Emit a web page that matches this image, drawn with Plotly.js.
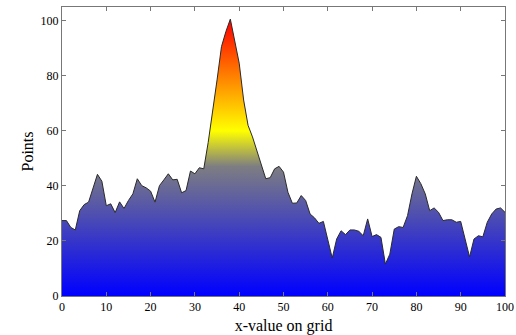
<!DOCTYPE html>
<html>
<head>
<meta charset="utf-8">
<script src="https://cdn.plot.ly/plotly-3.0.1.min.js"></script>
<style>html,body{margin:0;padding:0;background:#fff;}#chart{width:516px;height:335px;}</style>
</head>
<body>
<div id="chart"></div>
<script>
var xValues = [0,1,2,3,4,5,6,7,8,9,10,11,12,13,14,15,16,17,18,19,20,21,22,23,24,25,26,27,28,29,30,31,32,33,34,35,36,37,38,39,40,41,42,43,44,45,46,47,48,49,50,51,52,53,54,55,56,57,58,59,60,61,62,63,64,65,66,67,68,69,70,71,72,73,74,75,76,77,78,79,80,81,82,83,84,85,86,87,88,89,90,91,92,93,94,95,96,97,98,99,100];
var points = [27.4,27.4,24.9,24.0,31.0,33.2,34.1,39.5,44.2,41.7,32.8,33.5,30.3,34.2,31.8,34.7,37.1,42.6,40.1,39.3,38.1,34.1,40.1,42.2,44.4,42.2,42.4,37.5,38.3,45.4,44.4,46.6,46.2,55.8,66.3,78.5,90.6,96.1,100.6,93.1,84.6,71.2,62.0,57.8,52.9,48.1,42.6,43.0,46.2,47.1,45.0,37.7,33.7,33.8,36.5,34.7,29.8,28.4,26.4,27.1,20.1,13.8,20.7,23.7,22.3,24.0,24.0,23.5,21.9,28.0,21.6,22.3,21.3,11.6,15.2,24.3,25.2,24.9,29.2,37.1,43.5,40.8,37.1,31.0,32.0,30.4,27.4,27.7,27.7,26.8,27.1,20.7,14.2,20.7,21.9,21.5,26.8,29.8,31.6,32.0,30.4];
var xTicks = [0,10,20,30,40,50,60,70,80,90,100];
var yTicks = [0,20,40,60,80,100];

var trace = {
  x: xValues,
  y: points,
  type: 'scatter',
  mode: 'lines',
  fill: 'tozeroy',
  line: {color: '#2a2a2a', width: 1},
  fillgradient: {
    type: 'vertical',
    start: 0,
    stop: 100,
    colorscale: [[0,'rgb(0,0,255)'],[0.47,'rgb(125,125,130)'],[0.6,'rgb(255,255,0)'],[1,'rgb(255,0,0)']]
  },
  hoverinfo: 'x+y'
};

var serif = 'Liberation Serif, Times New Roman, serif';
var axisCommon = {
  showgrid: false,
  zeroline: false,
  showline: true,
  mirror: 'ticks',
  linecolor: '#777',
  linewidth: 1,
  ticks: 'inside',
  ticklen: 4,
  tickcolor: '#777',
  tickfont: {family: serif, size: 12, color: '#000'}
};

var layout = {
  width: 516,
  height: 335,
  margin: {l: 62, r: 11, t: 7, b: 39},
  paper_bgcolor: '#fff',
  plot_bgcolor: '#fff',
  showlegend: false,
  xaxis: Object.assign({}, axisCommon, {
    range: [0, 100],
    tickvals: xTicks,
    title: {text: 'x-value on grid', font: {family: serif, size: 16, color: '#000'}, standoff: 7}
  }),
  yaxis: Object.assign({}, axisCommon, {
    range: [0, 105],
    tickvals: yTicks,
    title: {text: 'Points', font: {family: serif, size: 16, color: '#000'}, standoff: 2}
  })
};

Plotly.newPlot('chart', [trace], layout, {displayModeBar: false, staticPlot: true});
</script>
</body>
</html>
